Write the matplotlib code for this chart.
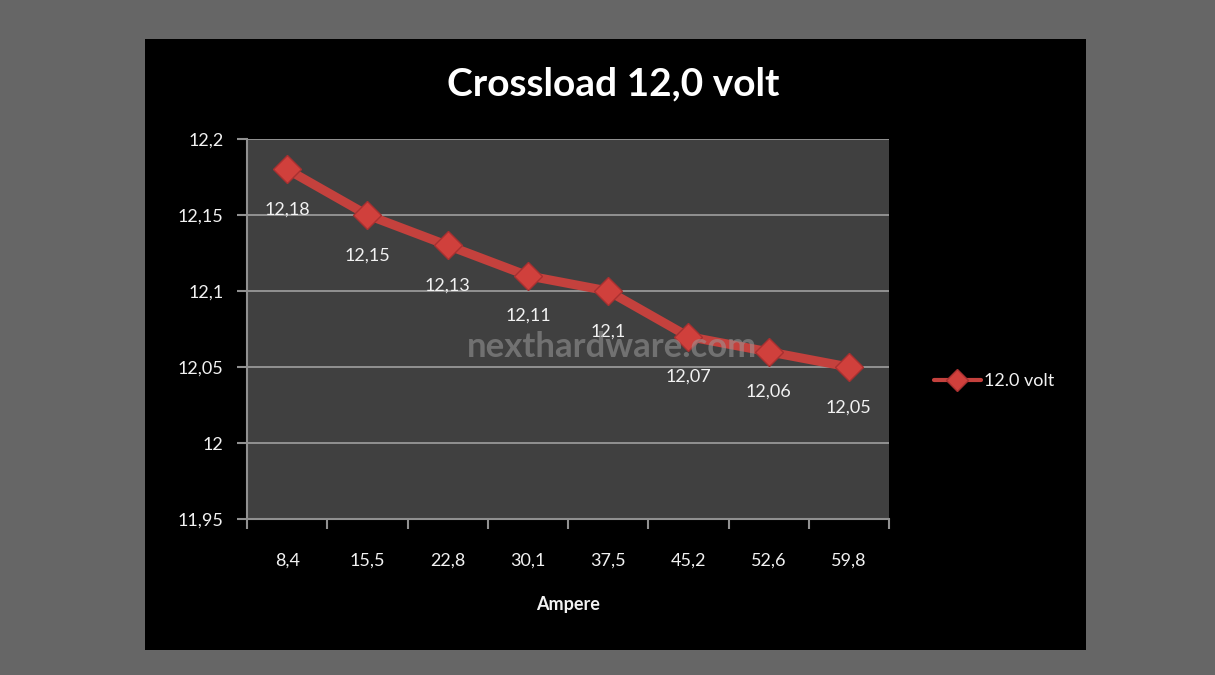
import matplotlib.pyplot as plt
from matplotlib.patches import Rectangle

# dati del grafico
ampere = ["8,4", "15,5", "22,8", "30,1", "37,5", "45,2", "52,6", "59,8"]
volt = [12.18, 12.15, 12.13, 12.11, 12.10, 12.07, 12.06, 12.05]
etichette = ["12,18", "12,15", "12,13", "12,11", "12,1", "12,07", "12,06", "12,05"]
y_ticks = [11.95, 12.0, 12.05, 12.1, 12.15, 12.2]
y_labels = ["11,95", "12", "12,05", "12,1", "12,15", "12,2"]

plt.rcParams['font.family'] = ['Lato', 'DejaVu Sans']
testo = '#f2f2f2'
rosso = '#c4413d'

fig = plt.figure(figsize=(12.15, 6.75), dpi=100)
fig.patch.set_facecolor('#666666')

# pannello nero dietro il grafico
fig.patches.append(Rectangle((0.1193, 0.037), 0.7745, 0.9052, transform=fig.transFigure,
                             facecolor='black', edgecolor='none', zorder=-5))

ax = fig.add_axes([0.2033, 0.2311, 0.5284, 0.563])
ax.set_facecolor('#404040')

x = list(range(len(ampere)))
ax.plot(x, volt, color=rosso, linewidth=6.5, marker='D', markersize=14,
        markerfacecolor='#d0403c', markeredgecolor='#a83030', label='12.0 volt',
        solid_capstyle='round', zorder=3)

for xi, v, lab in zip(x, volt, etichette):
    ax.annotate(lab, (xi, v), xytext=(0, -29), textcoords='offset points',
                ha='center', va='center', color=testo, fontsize=13, zorder=4)

ax.set_xlim(-0.5, len(ampere) - 0.5)
ax.set_ylim(11.95, 12.2)
ax.set_yticks(y_ticks)
ax.set_yticklabels(y_labels)
ax.set_xticks(x)
ax.set_xticklabels(ampere)
ax.set_xticks([i - 0.5 for i in range(len(ampere) + 1)], minor=True)
ax.tick_params(axis='x', which='major', length=0, pad=24, colors=testo, labelsize=13)
ax.tick_params(axis='x', which='minor', length=7, color='#909090', width=1.5)
ax.tick_params(axis='y', length=7, color='#909090', width=1.5, pad=10,
               labelcolor=testo, labelsize=13)

ax.grid(axis='y', color='#a0a0a0', linewidth=1.2, zorder=1)
ax.set_axisbelow(True)
for s in ['top', 'right']:
    ax.spines[s].set_visible(False)
for s in ['left', 'bottom']:
    ax.spines[s].set_color('#909090')
    ax.spines[s].set_linewidth(1.5)

ax.set_xlabel('Ampere', color=testo, fontsize=13, fontweight='bold', labelpad=20)
fig.text(0.505, 0.876, 'Crossload 12,0 volt', ha='center', va='center',
         color='white', fontsize=28, fontweight='bold')

# watermark
ax.text(0.569, 0.453, 'nexthardware.com', transform=ax.transAxes, ha='center', va='center',
        color='#9a9a9a', alpha=0.55, fontsize=25, fontweight='bold', zorder=5)

leg = fig.legend(loc='center left', bbox_to_anchor=(0.755, 0.435), frameon=False,
                 fontsize=13, handlelength=2.6, handletextpad=0.2, markerscale=0.8)
for t in leg.get_texts():
    t.set_color(testo)
for h in leg.legend_handles:
    h.set_linewidth(3)

fig.savefig('out.png', dpi=100, facecolor=fig.get_facecolor())
